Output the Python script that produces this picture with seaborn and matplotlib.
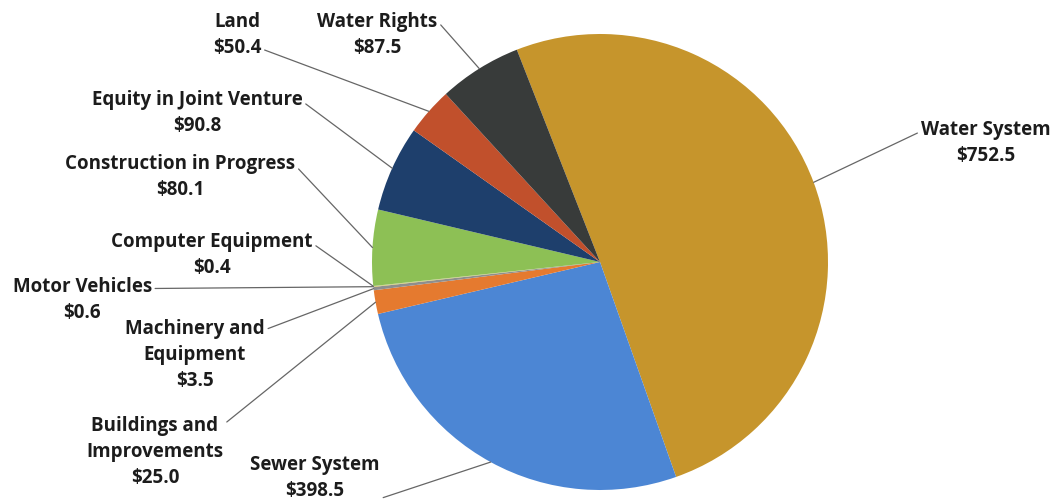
import numpy as np
import matplotlib
matplotlib.use("Agg")
import matplotlib.pyplot as plt
import seaborn as sns

# ==============================
# DATA
# ==============================

categories = [
    "Water System",
    "Sewer System",
    "Buildings and\nImprovements",
    "Machinery and\nEquipment",
    "Motor Vehicles",
    "Computer Equipment",
    "Construction in Progress",
    "Equity in Joint Venture",
    "Land",
    "Water Rights",
]
values = [752.5, 398.5, 25.0, 3.5, 0.6, 0.4, 80.1, 90.8, 50.4, 87.5]
colors = [
    "#C6952C", "#4C86D4", "#E57A2F", "#8E8E8E", "#D9C44A",
    "#B7C9A0", "#8DC055", "#1E3F6C", "#C1502C", "#383B3A",
]

# label placement (axes fraction) and where the leader leaves the text box
label_pos = [
    (0.935, 0.714), (0.299, 0.044), (0.147, 0.096), (0.185, 0.29),
    (0.078, 0.40), (0.201, 0.49), (0.171, 0.646), (0.187, 0.774),
    (0.225, 0.93), (0.358, 0.93),
]
label_rel = [
    (0.0, 0.75), (1.0, 0.05), (1.0, 0.88), (1.0, 0.85),
    (1.0, 0.75), (1.0, 0.75), (1.0, 0.75), (1.0, 0.75),
    (1.0, 0.2), (1.0, 0.8),
]

# ==============================
# PLOT
# ==============================

sns.set_theme(style="white")
plt.rcParams["font.family"] = ["Open Sans", "DejaVu Sans"]

fig = plt.figure(figsize=(10.54, 5.0), dpi=100)
ax = fig.add_axes([0, 0, 1, 1])

wedges, _ = ax.pie(
    values,
    colors=colors,
    startangle=111.4,
    counterclock=False,
    radius=1.0,
    wedgeprops=dict(linewidth=0),
)

ax.set_xlim(-600 / 228, 454 / 228)
ax.set_ylim(-238 / 228, 262 / 228)
ax.set_aspect("equal")
ax.axis("off")

for w, name, val, pos, rel in zip(wedges, categories, values, label_pos, label_rel):
    mid = np.deg2rad((w.theta1 + w.theta2) / 2)
    x, y = np.cos(mid) * w.r, np.sin(mid) * w.r
    ax.annotate(
        f"{name}\n${val:.1f}",
        xy=(x, y),
        xycoords="data",
        xytext=pos,
        textcoords="axes fraction",
        ha="center",
        va="center",
        fontsize=13.5,
        fontweight="bold",
        color="#1c1c1c",
        linespacing=1.4,
        arrowprops=dict(
            arrowstyle="-",
            color="#666666",
            lw=0.9,
            relpos=rel,
            shrinkA=0,
            shrinkB=0,
        ),
    )

plt.savefig("out.png", dpi=100)
